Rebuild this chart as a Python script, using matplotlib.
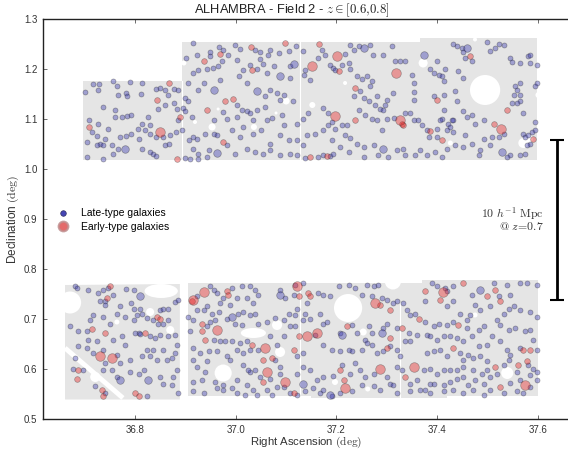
import matplotlib
matplotlib.use("Agg")
import matplotlib.pyplot as plt
from matplotlib.patches import Polygon, Circle, Ellipse
from matplotlib.lines import Line2D

plt.rcParams['font.family'] = ['Liberation Sans', 'DejaVu Sans']
plt.rcParams['mathtext.fontset'] = 'cm'

# survey footprint, RA / Dec in degrees
upper_field = [(36.696, 1.019), (36.696, 1.176), (36.893, 1.176), (36.893, 1.255),
               (37.366, 1.255), (37.366, 1.262), (37.598, 1.262), (37.598, 1.019)]
lower_left_field = [(36.661, 0.539), (36.661, 0.768), (36.889, 0.770), (36.889, 0.539)]
lower_right_field = [(36.905, 0.546), (36.905, 0.772), (37.370, 0.772), (37.370, 0.777),
                     (37.600, 0.777), (37.600, 0.545), (37.420, 0.545), (37.420, 0.541),
                     (37.150, 0.541), (37.150, 0.546)]

# masked regions (ra, dec, radius)
holes = [(37.495, 1.158, 0.030), (37.372, 1.212, 0.009), (37.152, 1.128, 0.006),
         (37.100, 1.136, 0.007), (36.953, 1.084, 0.007), (37.036, 1.084, 0.006),
         (36.919, 1.094, 0.004), (37.571, 1.052, 0.010), (37.582, 1.060, 0.008),
         (37.426, 1.052, 0.005), (37.217, 1.172, 0.004), (36.897, 1.212, 0.005),
         (37.601, 1.148, 0.006), (37.475, 1.259, 0.004), (37.080, 1.112, 0.003),
         (36.965, 1.120, 0.003),
         (37.223, 0.722, 0.028), (36.671, 0.733, 0.022), (36.830, 0.714, 0.008),
         (36.870, 0.678, 0.008), (36.721, 0.584, 0.010), (36.764, 0.694, 0.005),
         (36.975, 0.592, 0.017), (37.082, 0.688, 0.010), (37.088, 0.634, 0.010),
         (37.253, 0.674, 0.007), (37.262, 0.560, 0.005), (37.197, 0.574, 0.006),
         (37.539, 0.592, 0.012), (37.475, 0.708, 0.005), (37.312, 0.775, 0.016)]
blobs = [(36.852, 0.756, 0.066, 0.028), (37.035, 0.672, 0.050, 0.020)]
chip_gaps = [(37.128, 1.019, 1.255), (37.128, 0.546, 0.772), (37.327, 0.541, 0.731),
             (36.893, 1.019, 1.176)]
star_trail = [(36.661, 0.642), (36.776, 0.542)]

late_upper = [
    (36.701, 1.153), (36.716, 1.169), (36.729, 1.169), (36.727, 1.158), (36.756, 1.175),
    (36.764, 1.165), (36.790, 1.173), (36.813, 1.171), (36.767, 1.148), (36.782, 1.151),
    (36.785, 1.145), (36.811, 1.150), (36.842, 1.159), (36.850, 1.161), (36.860, 1.157),
    (36.877, 1.159), (36.886, 1.157), (36.866, 1.148), (36.846, 1.120), (36.860, 1.128),
    (36.877, 1.131), (36.883, 1.120), (36.899, 1.141), (36.896, 1.121), (36.886, 1.098),
    (36.727, 1.090), (36.737, 1.123), (36.760, 1.118), (36.760, 1.105), (36.774, 1.105),
    (36.785, 1.107), (36.793, 1.108), (36.826, 1.105), (36.813, 1.091), (36.830, 1.088),
    (36.820, 1.078), (36.830, 1.071), (36.842, 1.065), (36.856, 1.065), (36.870, 1.068),
    (36.881, 1.075), (36.893, 1.078), (36.704, 1.055), (36.724, 1.066), (36.740, 1.061),
    (36.730, 1.050), (36.736, 1.048), (36.724, 1.048), (36.754, 1.048), (36.770, 1.065),
    (36.783, 1.066), (36.793, 1.071), (36.807, 1.061), (36.813, 1.041), (36.767, 1.041),
    (36.757, 1.030), (36.830, 1.035), (36.836, 1.031), (36.842, 1.026), (36.899, 1.023),
    (36.704, 1.025), (36.737, 1.021), (36.860, 1.048), (36.868, 1.051), (36.747, 1.081),
    (36.714, 1.075), (36.805, 1.081), (36.709, 1.099),
    (36.915, 1.253), (36.924, 1.228), (36.901, 1.221), (36.948, 1.233), (36.949, 1.225),
    (36.966, 1.243), (36.975, 1.237), (36.999, 1.248), (37.009, 1.239), (37.038, 1.237),
    (37.048, 1.233), (37.065, 1.228), (37.068, 1.238), (37.085, 1.231), (37.105, 1.235),
    (36.916, 1.191), (36.926, 1.198), (36.942, 1.199), (36.954, 1.201), (36.964, 1.205),
    (36.972, 1.215), (36.985, 1.228), (37.002, 1.218), (37.015, 1.198), (37.028, 1.208),
    (37.042, 1.199), (37.054, 1.210), (37.048, 1.219), (37.062, 1.191), (37.075, 1.205),
    (37.107, 1.206), (37.108, 1.181), (36.906, 1.171), (36.926, 1.158), (36.936, 1.171),
    (36.969, 1.178), (37.007, 1.185), (37.022, 1.171), (37.058, 1.146), (37.068, 1.158),
    (37.081, 1.151), (37.087, 1.138), (37.095, 1.147), (36.913, 1.105), (36.899, 1.115),
    (36.906, 1.135), (36.956, 1.099), (36.975, 1.113), (36.982, 1.101), (37.002, 1.128),
    (37.012, 1.118), (37.022, 1.115), (37.028, 1.111), (37.042, 1.118), (37.058, 1.123),
    (37.002, 1.105), (37.035, 1.098), (37.062, 1.098), (37.071, 1.103), (37.091, 1.108),
    (37.113, 1.135), (36.916, 1.065), (36.923, 1.061), (36.908, 1.058), (36.939, 1.070),
    (36.956, 1.071), (36.962, 1.068), (36.992, 1.078), (37.015, 1.085), (37.009, 1.065),
    (37.035, 1.071), (37.050, 1.078), (37.068, 1.051), (37.088, 1.068), (37.105, 1.058),
    (37.095, 1.088), (36.916, 1.041), (36.926, 1.031), (36.946, 1.038), (36.942, 1.025),
    (36.982, 1.048), (36.999, 1.031), (37.022, 1.041), (37.038, 1.035), (37.055, 1.031),
    (37.068, 1.038), (37.088, 1.028), (37.108, 1.031), (37.121, 1.028), (36.909, 1.021),
    (36.926, 1.021),
    (37.120, 1.245), (37.134, 1.235), (37.138, 1.198), (37.136, 1.188), (37.148, 1.178),
    (37.164, 1.221), (37.171, 1.238), (37.178, 1.228), (37.187, 1.208), (37.193, 1.201),
    (37.197, 1.197), (37.211, 1.208), (37.217, 1.230), (37.227, 1.248), (37.234, 1.238),
    (37.244, 1.246), (37.266, 1.248), (37.272, 1.228), (37.224, 1.211), (37.226, 1.199),
    (37.240, 1.185), (37.250, 1.179), (37.260, 1.185), (37.270, 1.175), (37.266, 1.165),
    (37.234, 1.145), (37.247, 1.155), (37.255, 1.141), (37.264, 1.135), (37.280, 1.145),
    (37.277, 1.128), (37.287, 1.119), (37.293, 1.228), (37.310, 1.246), (37.317, 1.215),
    (37.327, 1.215), (37.336, 1.215), (37.313, 1.151), (37.300, 1.138), (37.297, 1.128),
    (37.293, 1.118), (37.315, 1.103), (37.350, 1.188), (37.354, 1.171), (37.353, 1.153),
    (37.353, 1.137), (37.399, 1.215), (37.385, 1.199), (37.393, 1.191), (37.403, 1.188),
    (37.409, 1.185), (37.414, 1.175), (37.413, 1.148), (37.416, 1.199), (37.432, 1.251),
    (37.439, 1.245), (37.449, 1.241), (37.452, 1.233), (37.469, 1.215), (37.456, 1.221),
    (37.442, 1.195), (37.452, 1.181), (37.393, 1.145), (37.436, 1.155), (37.439, 1.135),
    (37.413, 1.118), (37.409, 1.101), (37.406, 1.098), (37.422, 1.091), (37.432, 1.098),
    (37.451, 1.115), (37.459, 1.105), (37.469, 1.108), (37.475, 1.091), (37.492, 1.098),
    (37.499, 1.255), (37.505, 1.235), (37.515, 1.241), (37.522, 1.251), (37.532, 1.248),
    (37.545, 1.221), (37.548, 1.213), (37.565, 1.211), (37.580, 1.225), (37.584, 1.228),
    (37.585, 1.211), (37.598, 1.208), (37.598, 1.171), (37.594, 1.165), (37.565, 1.171),
    (37.558, 1.158), (37.555, 1.165), (37.552, 1.148), (37.565, 1.148), (37.565, 1.135),
    (37.558, 1.131), (37.548, 1.131), (37.571, 1.111), (37.594, 1.095), (37.532, 1.071),
    (37.571, 1.071), (37.575, 1.065), (37.581, 1.068), (37.588, 1.075), (37.594, 1.078),
    (37.585, 1.051), (37.578, 1.048), (37.492, 1.061), (37.508, 1.065), (37.522, 1.065),
    (37.505, 1.048), (37.485, 1.038), (37.545, 1.028), (37.538, 1.025), (37.565, 1.028),
    (37.575, 1.031), (37.121, 1.091), (37.134, 1.101), (37.144, 1.111), (37.174, 1.121),
    (37.184, 1.111), (37.191, 1.095), (37.184, 1.088), (37.174, 1.078), (37.197, 1.081),
    (37.211, 1.088), (37.221, 1.088), (37.244, 1.118), (37.257, 1.108), (37.270, 1.101),
    (37.280, 1.098), (37.290, 1.078), (37.300, 1.101), (37.336, 1.111), (37.346, 1.111),
    (37.353, 1.098), (37.361, 1.098), (37.370, 1.088), (37.380, 1.078), (37.399, 1.081),
    (37.383, 1.065), (37.399, 1.065), (37.419, 1.079), (37.426, 1.085), (37.432, 1.075),
    (37.429, 1.098), (37.121, 1.058), (37.134, 1.048), (37.141, 1.068), (37.158, 1.071),
    (37.191, 1.058), (37.207, 1.045), (37.217, 1.068), (37.227, 1.063), (37.224, 1.035),
    (37.240, 1.051), (37.254, 1.045), (37.254, 1.025), (37.274, 1.048), (37.283, 1.028),
    (37.303, 1.025), (37.320, 1.038), (37.333, 1.041), (37.336, 1.028), (37.356, 1.028),
    (37.366, 1.038), (37.380, 1.028), (37.396, 1.035), (37.409, 1.025), (37.419, 1.041),
    (37.456, 1.068), (37.436, 1.048), (37.452, 1.045), (37.469, 1.051), (37.482, 1.028),
    (37.138, 1.023), (37.164, 1.025), (37.174, 1.028), (37.187, 1.026), (37.194, 1.031),
]

late_lower = [
    (36.681, 0.766), (36.684, 0.761), (36.707, 0.758), (36.727, 0.751), (36.737, 0.757),
    (36.747, 0.761), (36.730, 0.735), (36.740, 0.735), (36.740, 0.728), (36.757, 0.748),
    (36.783, 0.759), (36.797, 0.758), (36.770, 0.725), (36.793, 0.731), (36.797, 0.721),
    (36.810, 0.721), (36.850, 0.719), (36.856, 0.721), (36.866, 0.721), (36.879, 0.733),
    (36.886, 0.738), (36.717, 0.708), (36.711, 0.698), (36.737, 0.705), (36.764, 0.711),
    (36.750, 0.691), (36.780, 0.705), (36.797, 0.698), (36.803, 0.708), (36.813, 0.711),
    (36.823, 0.703), (36.835, 0.699), (36.846, 0.691), (36.856, 0.691), (36.866, 0.698),
    (36.671, 0.685), (36.687, 0.675), (36.724, 0.655), (36.707, 0.658), (36.704, 0.675),
    (36.757, 0.658), (36.774, 0.665), (36.780, 0.648), (36.800, 0.671), (36.807, 0.671),
    (36.810, 0.670), (36.830, 0.665), (36.840, 0.661), (36.850, 0.668), (36.866, 0.665),
    (36.879, 0.668), (36.883, 0.648), (36.687, 0.645), (36.704, 0.641), (36.717, 0.631),
    (36.737, 0.638), (36.740, 0.611), (36.764, 0.628), (36.770, 0.611), (36.790, 0.618),
    (36.813, 0.625), (36.823, 0.638), (36.830, 0.625), (36.836, 0.638), (36.843, 0.618),
    (36.856, 0.638), (36.863, 0.618), (36.873, 0.621), (36.879, 0.631), (36.681, 0.621),
    (36.677, 0.601), (36.697, 0.598), (36.737, 0.598), (36.754, 0.598), (36.764, 0.585),
    (36.790, 0.595), (36.807, 0.591), (36.817, 0.598), (36.850, 0.585), (36.856, 0.571),
    (36.873, 0.568), (36.876, 0.585), (36.721, 0.566), (36.740, 0.551), (36.823, 0.545),
    (36.886, 0.551), (36.883, 0.598),
    (36.923, 0.745), (36.949, 0.765), (36.956, 0.758), (36.962, 0.751), (36.992, 0.761),
    (37.012, 0.765), (37.028, 0.765), (37.038, 0.758), (37.045, 0.748), (37.022, 0.741),
    (37.002, 0.741), (37.035, 0.731), (36.975, 0.741), (36.969, 0.731), (36.989, 0.728),
    (36.942, 0.726), (36.966, 0.715), (36.952, 0.711), (36.936, 0.718), (36.923, 0.718),
    (36.906, 0.705), (36.916, 0.698), (36.942, 0.685), (36.909, 0.675), (36.949, 0.695),
    (36.959, 0.698), (36.982, 0.701), (37.005, 0.711), (37.015, 0.715), (37.028, 0.708),
    (37.038, 0.711), (36.999, 0.691), (37.012, 0.687), (37.045, 0.690), (37.062, 0.695),
    (37.078, 0.702), (37.098, 0.741), (37.088, 0.758), (37.115, 0.748), (37.105, 0.711),
    (37.095, 0.698), (37.108, 0.685), (37.118, 0.685), (36.956, 0.658), (36.969, 0.655),
    (36.979, 0.655), (36.992, 0.655), (37.009, 0.651), (37.022, 0.656), (37.028, 0.638),
    (37.015, 0.631), (37.045, 0.638), (37.068, 0.665), (37.081, 0.648), (37.095, 0.665),
    (36.916, 0.641), (36.929, 0.631), (36.946, 0.635), (36.962, 0.635), (36.982, 0.625),
    (37.002, 0.638), (37.078, 0.618), (37.088, 0.605), (36.916, 0.618), (36.923, 0.605),
    (36.942, 0.615), (36.989, 0.618), (37.015, 0.608), (37.028, 0.595), (37.025, 0.598),
    (37.038, 0.598), (37.048, 0.585), (37.068, 0.581), (37.088, 0.591), (36.916, 0.575),
    (36.932, 0.578), (36.939, 0.595), (36.958, 0.574), (36.975, 0.568), (36.992, 0.561),
    (37.002, 0.578), (37.022, 0.568), (37.035, 0.558), (37.062, 0.558), (37.081, 0.565),
    (37.095, 0.565), (37.108, 0.551), (37.121, 0.548), (36.916, 0.555), (36.936, 0.551),
    (36.962, 0.561), (36.975, 0.558), (37.002, 0.551), (37.019, 0.548), (37.042, 0.548),
    (37.071, 0.548),
    (37.118, 0.768), (37.134, 0.771), (37.141, 0.731), (37.164, 0.751), (37.174, 0.748),
    (37.187, 0.745), (37.204, 0.765), (37.224, 0.768), (37.237, 0.761), (37.250, 0.748),
    (37.260, 0.768), (37.274, 0.765), (37.283, 0.768), (37.270, 0.745), (37.290, 0.741),
    (37.300, 0.738), (37.313, 0.731), (37.320, 0.735), (37.333, 0.731), (37.340, 0.718),
    (37.346, 0.708), (37.356, 0.711), (37.121, 0.721), (37.118, 0.708), (37.138, 0.711),
    (37.134, 0.698), (37.148, 0.701), (37.168, 0.711), (37.174, 0.691), (37.181, 0.695),
    (37.158, 0.668), (37.207, 0.671), (37.231, 0.688), (37.240, 0.671), (37.257, 0.658),
    (37.270, 0.671), (37.264, 0.685), (37.300, 0.691), (37.293, 0.681), (37.320, 0.681),
    (37.343, 0.671), (37.346, 0.655), (37.360, 0.668), (37.134, 0.631), (37.121, 0.625),
    (37.174, 0.648), (37.191, 0.638), (37.207, 0.635), (37.224, 0.638), (37.231, 0.635),
    (37.250, 0.638), (37.260, 0.651), (37.270, 0.648), (37.280, 0.631), (37.293, 0.635),
    (37.307, 0.645), (37.320, 0.638), (37.336, 0.655), (37.327, 0.625), (37.121, 0.591),
    (37.134, 0.605), (37.148, 0.598), (37.161, 0.578), (37.174, 0.585), (37.194, 0.587),
    (37.211, 0.608), (37.227, 0.591), (37.237, 0.611), (37.247, 0.598), (37.257, 0.585),
    (37.274, 0.591), (37.300, 0.585), (37.307, 0.571), (37.320, 0.605), (37.330, 0.598),
    (37.346, 0.571), (37.138, 0.555), (37.154, 0.561), (37.168, 0.551), (37.174, 0.558),
    (37.191, 0.545), (37.207, 0.551), (37.231, 0.555), (37.250, 0.568), (37.274, 0.567),
    (37.287, 0.558), (37.313, 0.568), (37.320, 0.551), (37.346, 0.555), (37.366, 0.558),
    (37.360, 0.578), (37.376, 0.558), (37.386, 0.571),
    (37.389, 0.771), (37.399, 0.765), (37.419, 0.755), (37.416, 0.761), (37.432, 0.765),
    (37.469, 0.748), (37.512, 0.771), (37.522, 0.745), (37.538, 0.768), (37.545, 0.748),
    (37.565, 0.771), (37.578, 0.771), (37.598, 0.768), (37.376, 0.735), (37.419, 0.725),
    (37.432, 0.735), (37.446, 0.711), (37.459, 0.698), (37.466, 0.708), (37.475, 0.728),
    (37.485, 0.718), (37.505, 0.725), (37.532, 0.711), (37.542, 0.721), (37.552, 0.725),
    (37.565, 0.718), (37.585, 0.715), (37.598, 0.705), (37.376, 0.695), (37.380, 0.668),
    (37.393, 0.685), (37.403, 0.691), (37.419, 0.688), (37.432, 0.695), (37.459, 0.681),
    (37.482, 0.678), (37.492, 0.685), (37.519, 0.698), (37.525, 0.688), (37.542, 0.678),
    (37.555, 0.681), (37.575, 0.675), (37.585, 0.678), (37.591, 0.658), (37.386, 0.665),
    (37.399, 0.658), (37.413, 0.665), (37.426, 0.665), (37.439, 0.661), (37.452, 0.655),
    (37.469, 0.665), (37.482, 0.645), (37.499, 0.648), (37.508, 0.665), (37.525, 0.655),
    (37.538, 0.638), (37.545, 0.628), (37.565, 0.641), (37.598, 0.638), (37.380, 0.631),
    (37.393, 0.635), (37.406, 0.638), (37.419, 0.625), (37.446, 0.631), (37.452, 0.618),
    (37.462, 0.628), (37.472, 0.621), (37.485, 0.625), (37.499, 0.615), (37.532, 0.608),
    (37.542, 0.618), (37.581, 0.608), (37.591, 0.601), (37.598, 0.595), (37.373, 0.598),
    (37.386, 0.601), (37.399, 0.591), (37.413, 0.598), (37.426, 0.598), (37.439, 0.598),
    (37.452, 0.605), (37.472, 0.598), (37.489, 0.591), (37.499, 0.598), (37.519, 0.591),
    (37.558, 0.595), (37.585, 0.588), (37.393, 0.571), (37.413, 0.568), (37.426, 0.575),
    (37.439, 0.581), (37.452, 0.585), (37.462, 0.568), (37.475, 0.578), (37.492, 0.571),
    (37.505, 0.585), (37.545, 0.573), (37.565, 0.578), (37.585, 0.565), (37.598, 0.578),
    (37.386, 0.551), (37.413, 0.555), (37.432, 0.558), (37.452, 0.551), (37.472, 0.558),
    (37.492, 0.548), (37.505, 0.558), (37.532, 0.551), (37.558, 0.555), (37.571, 0.551),
]

late_big = [(36.780, 1.041), (37.088, 1.185), (37.116, 1.210), (36.956, 1.157),
            (37.042, 1.155), (36.962, 1.033), (37.254, 1.241), (37.373, 1.228),
            (37.459, 1.241), (37.528, 1.035), (37.293, 1.041),
            (36.810, 0.746), (36.770, 0.578), (36.826, 0.578), (36.992, 0.705),
            (37.134, 0.571), (37.088, 0.748), (37.211, 0.668), (37.290, 0.671),
            (37.187, 0.548), (37.485, 0.758)]

early_small = [
    (36.868, 1.171), (36.843, 1.138), (36.889, 1.105), (36.883, 1.021), (36.709, 1.085),
    (36.936, 1.215), (37.030, 1.243), (37.032, 1.197), (36.994, 1.139), (36.979, 1.135),
    (36.942, 1.117), (36.974, 1.055), (36.968, 1.229), (37.098, 1.253), (37.166, 1.250),
    (37.204, 1.195), (37.237, 1.161), (37.466, 1.225), (37.399, 1.137), (37.538, 1.118),
    (37.512, 1.091), (37.591, 1.061), (37.237, 1.099), (37.330, 1.091), (37.333, 1.088),
    (37.386, 1.077), (37.409, 1.059), (37.181, 1.026), (37.148, 1.025),
    (36.750, 0.765), (36.744, 0.741), (36.843, 0.705), (36.850, 0.701), (36.714, 0.679),
    (36.740, 0.671), (36.820, 0.671), (36.687, 0.598), (36.684, 0.581), (36.734, 0.558),
    (36.737, 0.545), (36.800, 0.551), (36.807, 0.545), (36.913, 0.735), (36.982, 0.755),
    (36.985, 0.748), (37.125, 0.745), (36.932, 0.691), (36.932, 0.675), (36.939, 0.658),
    (37.032, 0.648), (37.125, 0.665), (37.055, 0.618), (37.072, 0.621), (37.055, 0.575),
    (37.144, 0.751), (37.148, 0.745), (37.287, 0.728), (37.307, 0.718), (37.363, 0.701),
    (37.221, 0.685), (37.307, 0.661), (37.330, 0.681), (37.115, 0.638), (37.300, 0.641),
    (37.207, 0.598), (37.214, 0.578), (37.336, 0.585), (37.115, 0.551), (37.376, 0.755),
    (37.452, 0.771), (37.499, 0.745), (37.515, 0.758), (37.525, 0.735), (37.406, 0.738),
    (37.442, 0.688), (37.571, 0.638), (37.585, 0.638), (37.432, 0.641), (37.515, 0.605),
    (37.561, 0.608), (37.578, 0.615), (37.525, 0.565),
]

early_big = [(36.850, 1.075), (37.151, 1.205), (37.201, 1.225), (37.319, 1.191),
             (37.526, 1.081), (37.197, 1.106), (37.327, 1.098),
             (36.730, 0.625), (36.754, 0.621), (36.916, 0.738), (36.937, 0.753),
             (37.121, 0.765), (36.962, 0.678), (37.058, 0.641), (37.062, 0.595),
             (37.098, 0.575), (37.277, 0.731), (37.161, 0.671), (37.141, 0.665),
             (37.217, 0.561), (37.287, 0.601), (37.354, 0.605), (37.411, 0.753),
             (37.575, 0.568)]

# 10 Mpc/h comoving at z=0.7
scale_ra = 37.6375
scale_dec = (0.738, 1.058)

fig = plt.figure(figsize=(5.68, 4.49), dpi=100)
ax = fig.add_axes([43 / 568, 30 / 449, 527 / 568, 400 / 449])

gray = '#e5e5e5'
for poly in (upper_field, lower_left_field, lower_right_field):
    ax.add_patch(Polygon(poly, closed=True, fc=gray, ec='none', zorder=0))
for ra, dec, r in holes:
    ax.add_patch(Circle((ra, dec), r, fc='white', ec='none', zorder=0.5))
for ra, dec, w, h in blobs:
    ax.add_patch(Ellipse((ra, dec), w, h, fc='white', ec='none', zorder=0.5))
for ra, d0, d1 in chip_gaps:
    ax.plot([ra, ra], [d0, d1], color='white', lw=0.8, zorder=0.6)
ax.plot([p[0] for p in star_trail], [p[1] for p in star_trail],
        color='white', lw=3.5, solid_capstyle='butt', zorder=0.6)

late = late_upper + late_lower
late_kw = dict(c='#3838b0', alpha=0.4, edgecolors='#222222', linewidths=0.5, zorder=2)
early_kw = dict(c='#e82020', alpha=0.4, edgecolors='#333333', linewidths=0.5, zorder=3)
ax.scatter([p[0] for p in late], [p[1] for p in late], s=13, **late_kw)
ax.scatter([p[0] for p in late_big], [p[1] for p in late_big], s=30, **late_kw)
ax.scatter([p[0] for p in early_small], [p[1] for p in early_small], s=17, **early_kw)
ax.scatter([p[0] for p in early_big], [p[1] for p in early_big], s=48, **early_kw)

ax.errorbar([scale_ra], [sum(scale_dec) / 2], yerr=[(scale_dec[1] - scale_dec[0]) / 2],
            color='k', lw=2, capsize=5, capthick=1.5, zorder=4)
ax.text(37.612, 0.910, r'$10\ h^{-1}\ \mathrm{Mpc}$', ha='right', va='center',
        fontsize=8.5, color='#333333')
ax.text(37.612, 0.883, r'$@\ z\!=\!0.7$', ha='right', va='center', fontsize=8.5,
        color='#333333')

handles = [Line2D([], [], ls='', marker='o', ms=4, mfc='#4545b5', mec='#303060', mew=0.5),
           Line2D([], [], ls='', marker='o', ms=7, mfc='#e05050', mec='#c09090',
                  mew=1.5, alpha=0.85)]
ax.legend(handles, ['Late-type galaxies', 'Early-type galaxies'], loc='center left',
          bbox_to_anchor=(0.015, 0.4975), frameon=False, fontsize=7.5,
          handlelength=1.5, handletextpad=1.0, labelspacing=0.35, borderaxespad=0)

ax.set_xlim(36.6173, 37.6636)
ax.set_ylim(0.5, 1.3)
ax.set_xticks([36.8, 37.0, 37.2, 37.4, 37.6])
ax.set_yticks([0.5, 0.6, 0.7, 0.8, 0.9, 1.0, 1.1, 1.2, 1.3])
ax.tick_params(direction='in', length=3, width=0.5, labelsize=7, top=True, right=False,
               colors='#333333', labelcolor='#333333', pad=4)
for sp in ax.spines.values():
    sp.set_linewidth(1.0)
    sp.set_color('#222222')

ax.set_xlabel(r'Right Ascension $(\mathrm{deg})$', fontsize=8.2, color='#333333', labelpad=0)
ax.set_ylabel(r'Declination $(\mathrm{deg})$', fontsize=8.5, color='#333333', labelpad=2)
ax.text(0.472, 1.0, r'ALHAMBRA - Field 2 - $z \in [0.6{,}0.8]$', transform=ax.transAxes,
        ha='center', va='bottom', fontsize=9.3, color='#222222')

fig.savefig('out.png', dpi=100)
